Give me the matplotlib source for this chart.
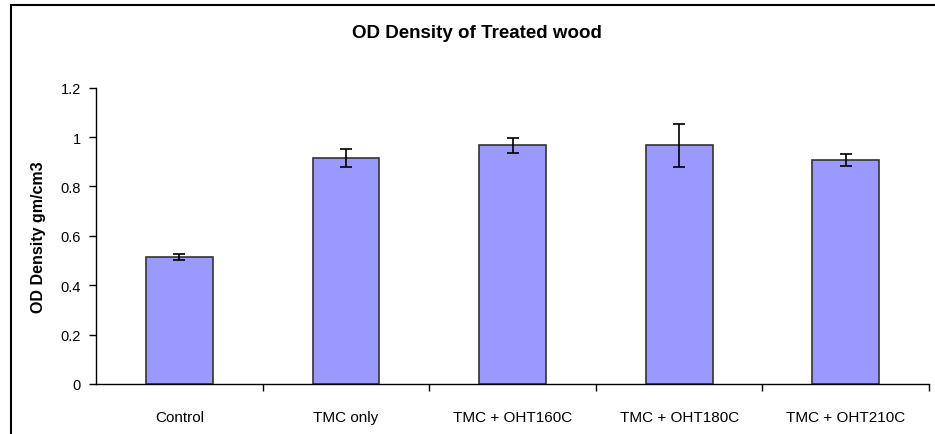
import matplotlib.pyplot as plt
from matplotlib.lines import Line2D

### Data

categories = ["Control", "TMC only", "TMC + OHT160C", "TMC + OHT180C", "TMC + OHT210C"]
density = [0.515, 0.915, 0.967, 0.967, 0.907]
errors = [0.011, 0.037, 0.030, 0.087, 0.025]
yticks = [0, 0.2, 0.4, 0.6, 0.8, 1, 1.2]
ytick_labels = ["0", "0.2", "0.4", "0.6", "0.8", "1", "1.2"]

### Plot

plt.rcParams["font.family"] = ["Liberation Sans", "DejaVu Sans"]

fig = plt.figure(figsize=(9.35, 4.35), dpi=100)
ax = fig.add_axes([0.1027, 0.115, 0.891, 0.6813])

x = range(len(categories))
ax.bar(x, density, width=0.4, color="#9999FF", edgecolor="#333333", linewidth=1.2)
ax.errorbar(x, density, yerr=errors, fmt="none", ecolor="black",
            elinewidth=1.2, capsize=4.5, capthick=1.2)

ax.set_xlim(-0.5, len(categories) - 0.5)
ax.set_ylim(0, 1.2)
ax.set_yticks(yticks)
ax.set_yticklabels(ytick_labels, fontsize=10.5)

# category labels centred, ticks at category boundaries
ax.set_xticks(list(x))
ax.set_xticklabels(categories, fontsize=11)
ax.tick_params(axis="x", which="major", length=0, pad=19)
ax.set_xticks([i + 0.5 for i in x], minor=True)
ax.tick_params(axis="x", which="minor", length=5, direction="out", width=1)
ax.tick_params(axis="y", length=5, direction="out", width=1, pad=6)

for side in ["top", "right"]:
    ax.spines[side].set_visible(False)
for side in ["left", "bottom"]:
    ax.spines[side].set_linewidth(1)

ax.set_ylabel("OD Density gm/cm3", fontsize=11.5, fontweight="bold", labelpad=10)
fig.text(0.51, 0.924, "OD Density of Treated wood", ha="center", va="center",
         fontsize=13.5, fontweight="bold")

# chart area border (left and top edges visible)
fig.add_artist(Line2D([0.0118, 0.0118], [0, 0.986], color="black", linewidth=1.5,
                      transform=fig.transFigure))
fig.add_artist(Line2D([0.0118, 1], [0.986, 0.986], color="black", linewidth=1.5,
                      transform=fig.transFigure))

fig.savefig("out.png", dpi=100)
